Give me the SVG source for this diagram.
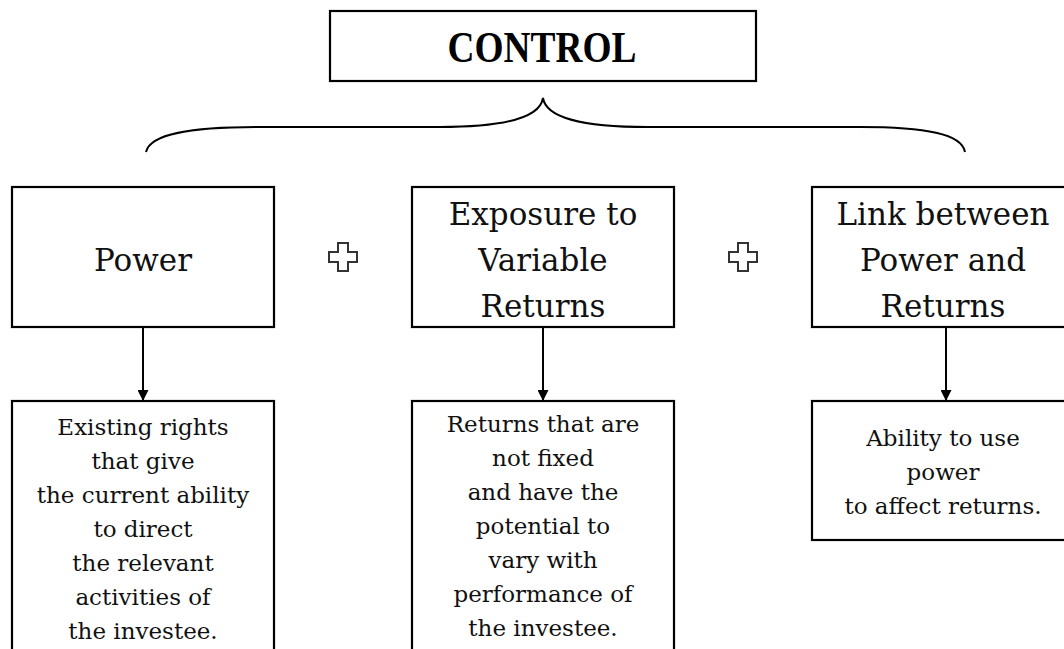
<svg xmlns="http://www.w3.org/2000/svg" width="1064" height="649" viewBox="0 0 1064 649">
<style>
.box{fill:#fff;stroke:#000;stroke-width:2.2}
.t{font-family:"DejaVu Serif","Liberation Serif",serif;fill:#111;text-anchor:middle}
.h{font-size:31px}
.b{font-size:23px}
.title{font-family:"Liberation Serif","DejaVu Serif",serif;font-weight:bold;font-size:44px;fill:#000;text-anchor:middle}
.conn{fill:none;stroke:#000;stroke-width:2}
.plus{fill:#fff;stroke:#333;stroke-width:2}
</style>
<defs>
<marker id="arr" markerUnits="userSpaceOnUse" markerWidth="11" markerHeight="11" refX="10" refY="5.5" orient="auto">
<path d="M0,0 L11,5.5 L0,11 z" fill="#000"/>
</marker>
<polygon id="plusShape" points="-5,-14 5,-14 5,-5 14,-5 14,5 5,5 5,14 -5,14 -5,5 -14,5 -14,-5 -5,-5"/>
</defs>
<rect width="1064" height="649" fill="#fff"/>

<g id="control">
<rect class="box" x="330" y="11" width="426" height="70"/>
<text class="title" x="542" y="61.7" textLength="189" lengthAdjust="spacingAndGlyphs">CONTROL</text>
</g>

<g id="connectors">
<path class="conn" d="M146,152 C150,134 190,127 258,127 L440,127 C505,127 540,118 543,98 C546,118 582,127 648,127 L860,127 C926,127 962,134 965,152"/>
<line class="conn" x1="143" y1="327" x2="143" y2="400" marker-end="url(#arr)"/>
<line class="conn" x1="543" y1="327" x2="543" y2="400" marker-end="url(#arr)"/>
<line class="conn" x1="946" y1="327" x2="946" y2="400" marker-end="url(#arr)"/>
</g>

<g id="plus1"><use href="#plusShape" class="plus" transform="translate(343,257)"/></g>
<g id="plus2"><use href="#plusShape" class="plus" transform="translate(743,257)"/></g>

<g id="power">
<rect class="box" x="12" y="187" width="262" height="140"/>
<text class="t h" x="143" y="271">Power</text>
</g>

<g id="exposure">
<rect class="box" x="412" y="187" width="262" height="140"/>
<text class="t h" x="543" y="225">Exposure to</text>
<text class="t h" x="543" y="271">Variable</text>
<text class="t h" x="543" y="317">Returns</text>
</g>

<g id="link">
<rect class="box" x="812" y="187" width="264" height="140"/>
<text class="t h" x="943" y="225">Link between</text>
<text class="t h" x="943" y="271">Power and</text>
<text class="t h" x="943" y="317">Returns</text>
</g>

<g id="power-desc">
<rect class="box" x="12" y="401" width="262" height="262"/>
<text class="t b" x="143" y="435">Existing rights</text>
<text class="t b" x="143" y="469">that give</text>
<text class="t b" x="143" y="503">the current ability</text>
<text class="t b" x="143" y="537">to direct</text>
<text class="t b" x="143" y="571">the relevant</text>
<text class="t b" x="143" y="605">activities of</text>
<text class="t b" x="143" y="639">the investee.</text>
</g>

<g id="exposure-desc">
<rect class="box" x="412" y="401" width="262" height="262"/>
<text class="t b" x="543" y="432">Returns that are</text>
<text class="t b" x="543" y="466">not fixed</text>
<text class="t b" x="543" y="500">and have the</text>
<text class="t b" x="543" y="534">potential to</text>
<text class="t b" x="543" y="568">vary with</text>
<text class="t b" x="543" y="602">performance of</text>
<text class="t b" x="543" y="636">the investee.</text>
</g>

<g id="link-desc">
<rect class="box" x="812" y="401" width="264" height="139"/>
<text class="t b" x="943" y="446">Ability to use</text>
<text class="t b" x="943" y="480">power</text>
<text class="t b" x="943" y="514">to affect returns.</text>
</g>
</svg>
